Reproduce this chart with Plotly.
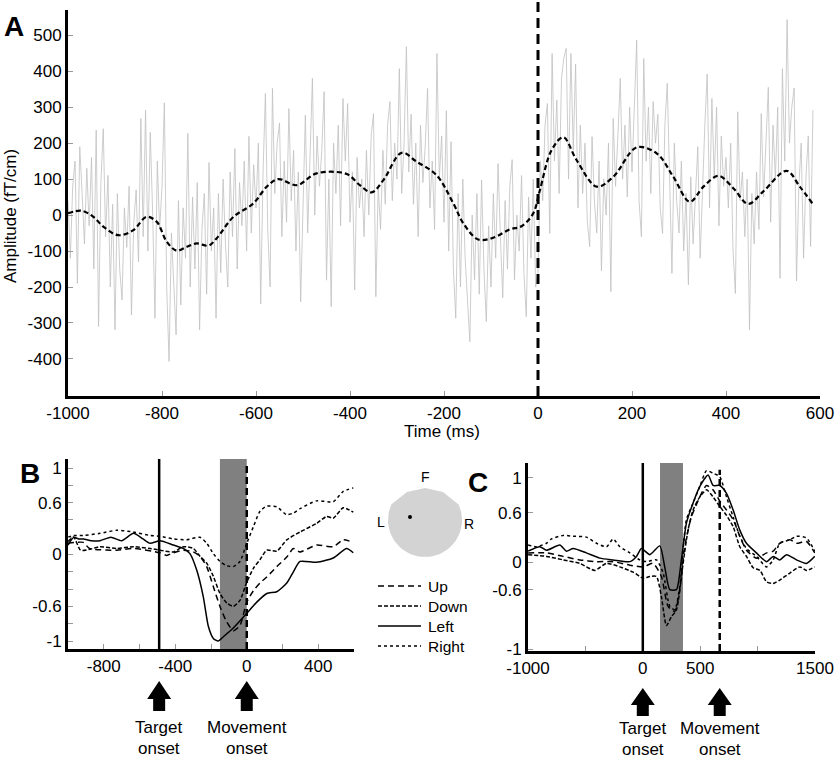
import numpy as np
import plotly.graph_objects as go

FONT = "Liberation Sans, Arial, sans-serif"
W, H = 840, 760

# ---------------- Panel A data ----------------
noise_v = [
    40, -120, 80, 150, -190, 190, 60, -80, 130, -30, 160, -150, 236, -310, 90, 240, -60, 110, -200, 30,
    -319, 60, -150, -236, 20, -90, 80, -278, -20, 70, -130, 268, -60, 292, -100, 230, 10, -287, 150, -40,
    80, 312, -200, -407, -50, -180, -333, 40, -250, 20, -120, 227, -200, 50, -150, 90, -319, -40, 60, -220,
    146, -100, 20, -287, 60, -160, 100, -80, -200, 120, -60, 185, -150, 90, -30, 150, -100, 219, -50, 140,
    20, 200, -247, 120, 338, -40, -200, 352, 60, 200, 256, -60, 150, -20, 296, 40, 180, -100, 120, -241,
    40, 278, -50, 150, 380, 0, 220, 80, 180, 343, -181, 100, -255, 200, 60, 250, -30, 324, 150, 310,
    -20, 120, -208, 160, 20, 100, -60, 180, 0, 220, 282, -227, 80, -40, 180, 30, 250, 315, 40, 200,
    100, 407, 60, 200, 468, 120, 280, 30, 200, -60, 250, 90, 190, 352, 20, 150, -40, 449, 100, 220,
    -20, 290, -100, 204, -150, -287, 60, -200, 100, -120, -250, -352, 0, -180, 60, -220, 97, -150, -296, -30,
    -200, 60, -120, 143, -60, -230, 40, -150, 80, 154, -180, 0, -100, 110, -160, -282, 50, -120, 100, -200,
    -162, 150, 40, 250, 310, -51, 449, 150, 320, 60, 380, 437, 463, 100, 449, 180, 420, 20, 250, 60,
    200, -20, -88, 218, 40, -50, 150, -155, 100, 0, 200, -213, 268, 80, 220, 380, 100, 250, 50, 300,
    120, 280, 486, 40, -60, 435, 150, 300, 60, 315, 200, 280, 20, -51, 250, 366, 100, -162, 200, 40,
    -50, 150, -100, 60, -194, 106, -80, 50, 190, -120, 100, 250, 392, 20, 324, 100, 300, -30, 220, 80,
    160, 20, 200, -100, -218, 287, 40, 120, -60, 100, -319, 60, -80, 120, -40, 282, 50, 200, 355, -20,
    250, 100, 300, -176, 407, 150, 543, 200, 300, 353, -183, 80, 200, -120, 100, 220, -88, 292,
]
noise_t = list(range(-1000, -1000 + 5 * len(noise_v), 5))

smooth_t = [-1000, -971, -946, -925, -893, -861, -833, -811, -790, -769, -747, -726, -701, -684, -648,
            -606, -577, -553, -513, -471, -407, -379, -354, -329, -290, -258, -216, -180, -159, -127,
            -95, -60, -35, -10, 4, 29, 54, 82, 125, 160, 210, 253, 288, 323, 352, 384, 416, 447, 479,
            529, 557, 584]
smooth_v = [5, 12, -5, -32, -56, -42, -5, -19, -74, -99, -88, -79, -85, -65, -5,
            32, 79, 100, 83, 116, 114, 83, 63, 97, 173, 148, 111, 32, -23, -68,
            -63, -40, -31, 5, 69, 181, 216, 153, 79, 106, 188, 171, 106, 37, 79, 109, 74, 31, 65,
            123, 79, 32]
a_xticks = list(range(-1000, 601, 200))
a_yticks = list(range(-400, 501, 100))

# ---------------- Panel B data ----------------
b_right_t = [-1000, -968, -914, -821, -728, -634, -541, -485, -411, -336, -262, -224, -187, -150, -112,
             -75, -38, 0, 37, 74, 112, 168, 224, 261, 298, 391, 484, 540, 596]
b_right_v = [0.20, 0.22, 0.22, 0.245, 0.28, 0.26, 0.22, 0.21, 0.18, 0.17, 0.20, 0.13, 0.01, -0.08, -0.13,
             -0.14, -0.08, 0.13, 0.32, 0.50, 0.56, 0.55, 0.46, 0.48, 0.53, 0.62, 0.61, 0.73, 0.77]
b_left_t = [-1000, -968, -940, -914, -870, -821, -760, -700, -634, -580, -541, -485, -411, -355, -318,
            -280, -243, -215, -187, -160, -131, -75, 0, 56, 112, 168, 224, 261, 298, 391, 484, 559, 596]
b_left_v = [0.11, 0.20, 0.18, 0.18, 0.16, 0.16, 0.20, 0.16, 0.245, 0.18, 0.13, 0.16, 0.11, 0.07, 0.01,
            -0.18, -0.49, -0.83, -0.97, -1.0, -0.95, -0.85, -0.68, -0.55, -0.45, -0.43, -0.33, -0.20,
            -0.08, -0.09, -0.04, 0.07, 0.02]
b_up_t = [-1000, -914, -880, -728, -634, -485, -448, -411, -355, -299, -262, -224, -187, -150, -112,
          -75, -38, 0, 37, 74, 112, 168, 224, 261, 298, 391, 484, 540, 596]
b_up_v = [0.13, 0.14, 0.07, 0.05, 0.07, 0.02, -0.01, 0.02, 0.05, 0.03, -0.02, -0.14, -0.37, -0.60, -0.78,
          -0.88, -0.82, -0.55, -0.42, -0.33, -0.26, -0.14, -0.03, 0.07, 0.03, 0.11, 0.09, 0.17, 0.14]
b_down_t = [-1000, -968, -930, -880, -821, -728, -634, -541, -485, -411, -355, -299, -262, -224, -187,
            -150, -112, -75, -38, 0, 37, 74, 112, 168, 224, 298, 391, 447, 484, 540, 596]
b_down_v = [0.15, 0.20, 0.05, 0.06, 0.09, 0.07, 0.09, 0.07, 0.05, 0.03, 0.09, 0.07, -0.02, -0.10, -0.25,
            -0.45, -0.56, -0.60, -0.53, -0.32, -0.16, -0.06, 0.05, 0.04, 0.17, 0.26, 0.36, 0.44, 0.42,
            0.54, 0.49]

# ---------------- Panel C data ----------------
c_right_t = [-999, -927, -839, -795, -694, -607, -491, -403, -316, -259, -200, -113, -26, 32, 119, 177,
             235, 278, 322, 380, 438, 497, 555, 612, 671, 729, 787, 845, 903, 990, 1078, 1136, 1193,
             1281, 1339, 1426, 1498]
c_right_v = [0.20, 0.18, 0.22, 0.27, 0.31, 0.30, 0.29, 0.22, 0.18, 0.27, 0.18, 0.11, 0.03, 0.01, 0.03, -0.12,
             -0.50, -0.54, -0.28, 0.49, 0.68, 0.87, 1.05, 1.02, 0.98, 0.75, 0.52, 0.30, 0.16, 0.07, -0.05,
             0.03, 0.22, 0.26, 0.30, 0.28, 0.13]
c_left_t = [-999, -897, -839, -723, -665, -607, -491, -374, -259, -113, -55, -12, 61, 148, 191, 235, 293,
            336, 380, 438, 497, 569, 612, 671, 729, 787, 845, 903, 990, 1078, 1136, 1193, 1252, 1339,
            1426, 1498]
c_left_v = [0.13, 0.18, 0.14, 0.20, 0.13, 0.16, 0.11, 0.05, 0.03, 0.01, 0.07, 0.16, 0.09, 0.19, -0.05,
            -0.31, -0.31, 0.03, 0.45, 0.68, 0.87, 1.0, 0.88, 0.88, 0.79, 0.60, 0.37, 0.22, 0.11, 0.01,
            0.07, 0.03, 0.09, 0.03, -0.01, 0.07]
c_down_t = [-999, -839, -694, -549, -418, -316, -200, -84, 3, 61, 119, 162, 206, 249, 293, 351, 394, 438,
            497, 555, 612, 671, 729, 787, 845, 903, 961, 1020, 1078, 1136, 1193, 1281, 1368, 1426, 1498]
c_down_v = [0.09, 0.07, 0.03, -0.01, -0.09, -0.01, -0.05, -0.11, -0.18, -0.16, -0.16, -0.39, -0.72,
            -0.62, -0.54, -0.01, 0.37, 0.60, 0.75, 0.83, 0.75, 0.64, 0.54, 0.41, 0.18, 0.07, -0.06,
            -0.09, -0.22, -0.24, -0.20, -0.12, -0.05, -0.09, -0.05]
c_up_t = [-999, -839, -694, -549, -403, -259, -113, 3, 90, 162, 220, 278, 322, 365, 423, 497, 555, 612,
          671, 729, 787, 845, 903, 990, 1078, 1136, 1193, 1281, 1339, 1426, 1498]
c_up_v = [0.11, 0.11, 0.07, 0.03, 0.01, 0.01, -0.03, -0.05, -0.01, -0.16, -0.50, -0.56, -0.31, 0.18,
          0.52, 0.75, 0.88, 0.83, 0.70, 0.60, 0.49, 0.30, 0.14, 0.05, 0.11, 0.13, 0.22, 0.26, 0.22,
          0.24, 0.11]

b_target, b_move, b_window = -490, 0, (-150, 0)
c_target, c_move, c_window = 0, 670, (150, 350)

legend_names = ["Up", "Down", "Left", "Right"]
legend_dash = ["6px,4px", "4px,2px", "solid", "dot"]


def px(x):
    return x / W


def py(y):
    return 1 - y / H


def lab(v):
    return str(v).replace("\u2212", "-")


fig = go.Figure()

# Panel A
fig.add_trace(go.Scatter(x=noise_t, y=noise_v, mode="lines", xaxis="x", yaxis="y",
                         line=dict(color="rgb(192,192,192)", width=0.8), hoverinfo="skip"))
fig.add_trace(go.Scatter(x=smooth_t, y=smooth_v, mode="lines", xaxis="x", yaxis="y",
                         line=dict(color="black", width=2.2, dash="5px,3px", shape="spline", smoothing=1.0)))

# Panels B and C
for (tx, vy, d, ax) in [
    (b_up_t, b_up_v, legend_dash[0], "2"), (b_down_t, b_down_v, legend_dash[1], "2"),
    (b_left_t, b_left_v, legend_dash[2], "2"), (b_right_t, b_right_v, legend_dash[3], "2"),
    (c_up_t, c_up_v, legend_dash[0], "3"), (c_down_t, c_down_v, legend_dash[1], "3"),
    (c_left_t, c_left_v, legend_dash[2], "3"), (c_right_t, c_right_v, legend_dash[3], "3"),
]:
    fig.add_trace(go.Scatter(x=tx, y=vy, mode="lines", xaxis="x" + ax, yaxis="y" + ax,
                             line=dict(color="black", width=1.5, dash=d, shape="spline", smoothing=0.6)))

# Head schematic (pixel-space helper axis)
ang = np.deg2rad(np.linspace(-25, 205, 60))
head_x = list(425 + 37 * np.cos(ang)) + [407, 425, 443, 458.5]
head_y = list(520 + 37 * np.sin(ang)) + [492, 488, 492, 504.4]
fig.add_trace(go.Scatter(x=head_x, y=head_y, mode="lines", fill="toself", xaxis="x4", yaxis="y4",
                         fillcolor="rgb(211,211,211)", line=dict(width=0, color="rgb(211,211,211)")))
fig.add_trace(go.Scatter(x=[410], y=[517], mode="markers", xaxis="x4", yaxis="y4",
                         marker=dict(color="black", size=4)))


def axis(**kw):
    base = dict(showline=True, linecolor="black", linewidth=3, ticks="inside", ticklen=5,
                tickcolor="#999", tickwidth=1, showgrid=False, zeroline=False, automargin=False,
                tickfont=dict(family=FONT, size=17, color="black"), fixedrange=True)
    base.update(kw)
    return base


shapes = []
shapes.append(dict(type="line", xref="x", yref="paper", x0=0, x1=0, y0=py(396), y1=1.0,
                   line=dict(color="black", width=3, dash="10px,6px")))

yb0, yb1 = -1.092, 1.104
shapes.append(dict(type="rect", xref="x2", yref="y2", x0=b_window[0], x1=b_window[1], y0=yb0, y1=yb1,
                   fillcolor="rgb(128,128,128)", line=dict(width=0), layer="below"))
shapes.append(dict(type="line", xref="x2", yref="y2", x0=b_target, x1=b_target, y0=yb0, y1=yb1,
                   line=dict(color="black", width=2.5)))
shapes.append(dict(type="line", xref="x2", yref="y2", x0=b_move, x1=b_move, y0=yb0, y1=1.06,
                   line=dict(color="black", width=2.5, dash="7px,4px")))
yc0, yc1 = -1.011, 1.137
shapes.append(dict(type="rect", xref="x3", yref="y3", x0=c_window[0], x1=c_window[1], y0=yc0, y1=yc1,
                   fillcolor="rgb(128,128,128)", line=dict(width=0), layer="below"))
shapes.append(dict(type="line", xref="x3", yref="y3", x0=c_target, x1=c_target, y0=yc0, y1=yc1,
                   line=dict(color="black", width=2.5)))
shapes.append(dict(type="line", xref="x3", yref="y3", x0=c_move, x1=c_move, y0=yc0, y1=1.06,
                   line=dict(color="black", width=2.5, dash="7px,4px")))


def arrow(xref, xval, tip, hb, sb):
    p = (f"M 0,{py(tip)} L 12,{py(hb)} L 6,{py(hb)} L 6,{py(sb)} L -6,{py(sb)} "
         f"L -6,{py(hb)} L -12,{py(hb)} Z")
    return dict(type="path", xref=xref, yref="paper", xsizemode="pixel", xanchor=xval, path=p,
                fillcolor="black", line=dict(width=0))


shapes += [arrow("x2", b_target, 681, 699, 711), arrow("x2", b_move, 681, 699, 711),
           arrow("x3", c_target, 688, 705, 716), arrow("x3", c_move, 688, 705, 716)]

leg_y = [586, 606, 626, 646]
for yy, d in zip(leg_y, legend_dash):
    shapes.append(dict(type="line", xref="paper", yref="paper", x0=px(378), x1=px(421),
                       y0=py(yy), y1=py(yy), line=dict(color="black", width=1.5, dash=d)))

ann = []


def text(x, y, s, size=17, xanchor="center", angle=0, xref="paper"):
    ann.append(dict(x=x if xref != "paper" else px(x), y=py(y), xref=xref, yref="paper", text=s,
                    showarrow=False, xanchor=xanchor, yanchor="middle", textangle=angle,
                    font=dict(family=FONT, size=size, color="black")))


text(14, 27, "<b>A</b>", size=28)
text(30, 473, "<b>B</b>", size=28)
text(478, 482, "<b>C</b>", size=28)
text(10, 216, "Amplitude (fT/cm)", size=17, angle=-90)
text(442, 431, "Time (ms)", size=17)
for xr, xv, y1, y2, w in [("x2", b_target, 727, 748, "Target"), ("x2", b_move, 727, 748, "Movement"),
                          ("x3", c_target, 728, 749, "Target"), ("x3", c_move, 728, 749, "Movement")]:
    text(xv, y1, w, size=17, xref=xr)
    text(xv, y2, "onset", size=17, xref=xr)
for yy, nm in zip(leg_y, legend_names):
    text(426, yy, nm, size=15.5, xanchor="left")
text(425, 477, "F", size=14)
text(381, 522, "L", size=14)
text(469, 524, "R", size=14)

b_xt = [-1000, -800, -600, -400, -200, 0, 200, 400, 600]
b_yt = [-1.0, -0.8, -0.6, -0.4, -0.2, 0, 0.2, 0.4, 0.6, 0.8, 1.0]
b_ylab = {-1.0: "-1", -0.6: "-0.6", 0: "0", 0.6: "0.6", 1.0: "1"}
c_xt = [-1000, -500, 0, 500, 1000, 1500]
c_xlab = ["-1000", "", "0", "500", "", "1500"]
c_ytv = [0.97, 0.57, 0.0, -0.31, -0.99]
c_ylab = ["1", "0.6", "0", "-0.6", "-1"]

fig.update_layout(
    width=W, height=H, margin=dict(l=0, r=0, t=0, b=0), showlegend=False,
    paper_bgcolor="white", plot_bgcolor="rgba(0,0,0,0)",
    xaxis=axis(domain=[px(68), px(820)], range=[-1000, 600], tickvals=a_xticks,
               ticktext=[lab(v) for v in a_xticks], anchor="y"),
    yaxis=axis(domain=[py(396), py(10)], range=[-503, 570], tickvals=a_yticks,
               ticktext=[lab(v) for v in a_yticks], anchor="x"),
    xaxis2=axis(domain=[px(68), px(354)], range=[-1000, 600], tickvals=b_xt,
                ticktext=[lab(v) if v in (-800, -400, 0, 400) else "" for v in b_xt], anchor="y2"),
    yaxis2=axis(domain=[py(649), py(459)], range=[yb0, yb1], tickvals=b_yt,
                ticktext=[b_ylab.get(round(v, 1), "") for v in b_yt], anchor="x2"),
    xaxis3=axis(domain=[px(528), px(815)], range=[-1000, 1500], tickvals=c_xt,
                ticktext=c_xlab, anchor="y3"),
    yaxis3=axis(domain=[py(651), py(463)], range=[yc0, yc1], tickvals=c_ytv, ticktext=c_ylab, anchor="x3"),
    xaxis4=dict(domain=[px(360), px(490)], range=[360, 490], visible=False, fixedrange=True, anchor="y4"),
    yaxis4=dict(domain=[py(570), py(470)], range=[570, 470], visible=False, fixedrange=True, anchor="x4"),
    shapes=shapes, annotations=ann,
)

fig.write_html("out.html", config={"displayModeBar": False},
               post_script="document.body.style.margin='0';")
